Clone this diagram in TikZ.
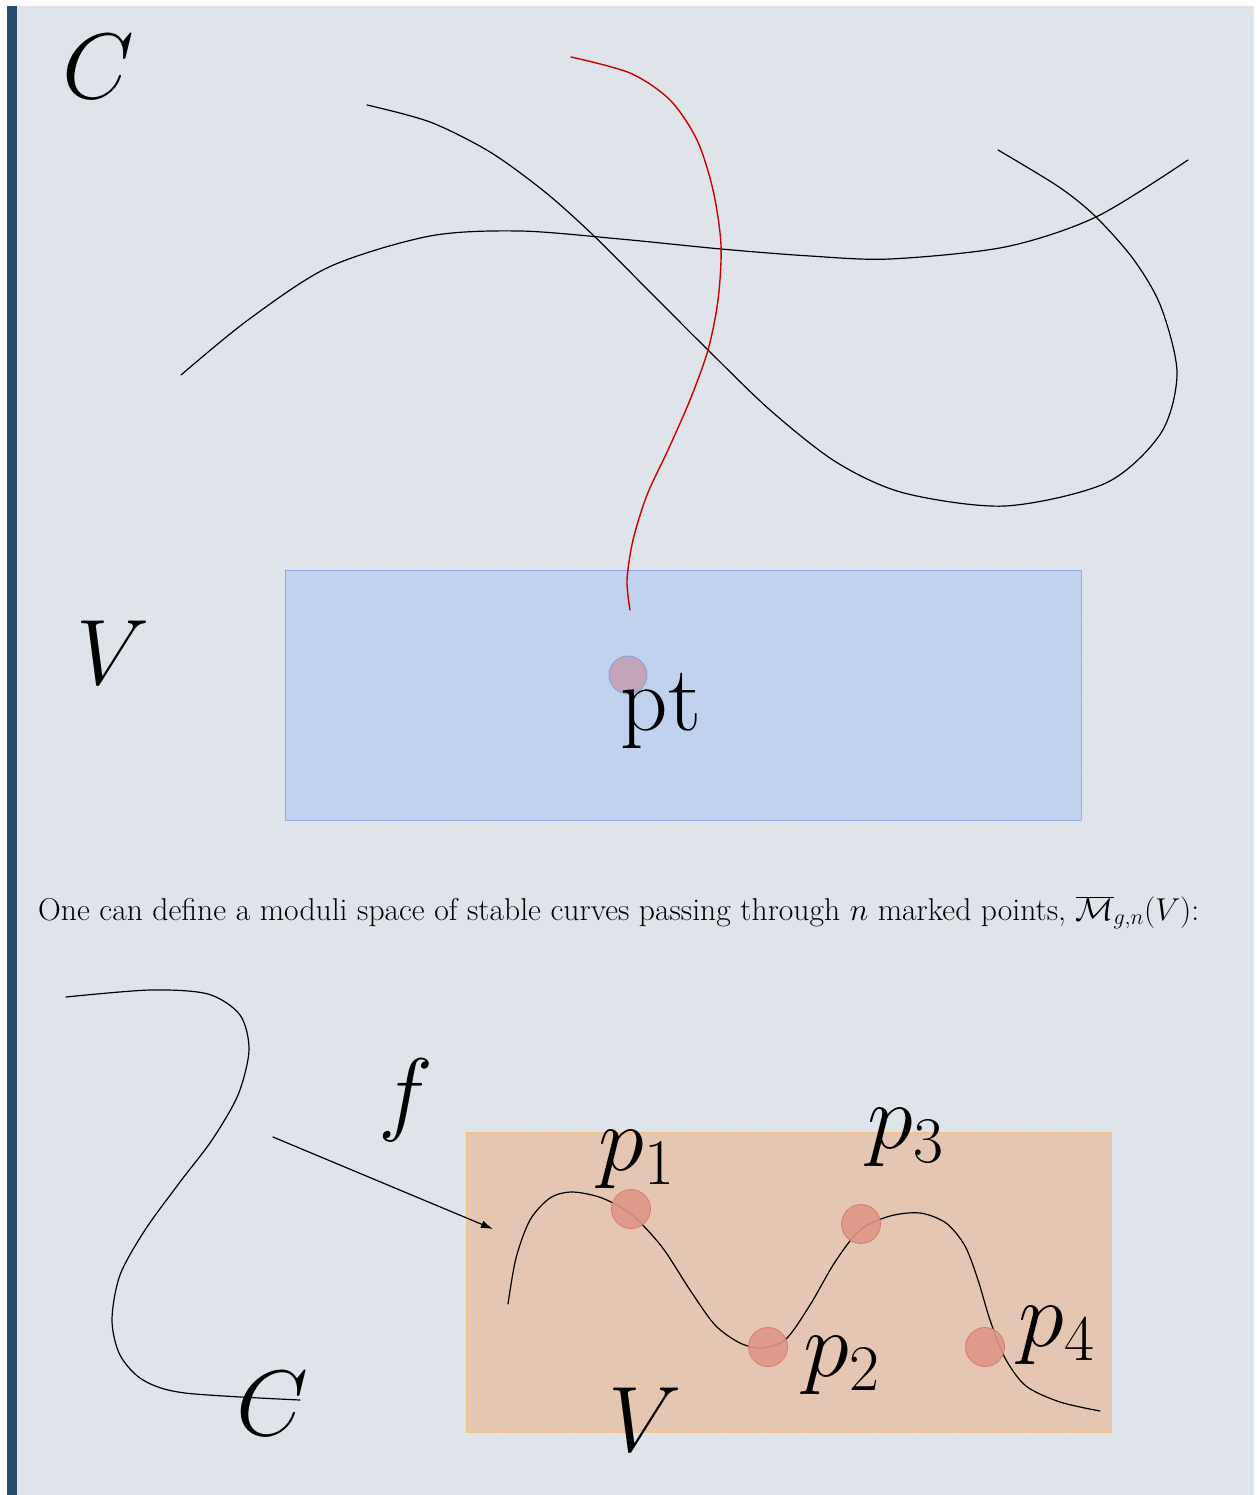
\documentclass[tikz,border=0pt]{standalone}
\usepackage{fix-cm}
\usetikzlibrary{arrows.meta}
\definecolor{moduliBg}{HTML}{DFE4EA}
\definecolor{moduliBar}{HTML}{264C6E}
\definecolor{targetBlue}{HTML}{C0D2ED}
\definecolor{targetBlueLine}{HTML}{8AA8DF}
\definecolor{targetOrange}{HTML}{E4C6B2}
\definecolor{targetOrangeLine}{HTML}{F2C27A}
\definecolor{ptDot}{HTML}{C4A4B8}
\definecolor{ptDotLine}{HTML}{7D9FE0}
\definecolor{markDot}{HTML}{DE9687}
\definecolor{markDotLine}{HTML}{E07070}
\definecolor{fiberRed}{HTML}{CC0000}

\begin{document}
\begin{tikzpicture}[x=1pt,y=-1pt,>=Latex,line cap=round,line join=round]
\path[fill=white] (0,0) rectangle (1257,1495);
\path[fill=moduliBg] (7,6) rectangle (1254,1495);
\path[fill=moduliBar] (7,6) rectangle (17,1495);
\tikzset{bigmath/.style={font=\fontsize{93}{100}\selectfont,inner sep=0pt},curve/.style={draw=black,line width=1.2pt},dotfill/.style={densely dotted,line width=0.9pt}}
% upper half: curves through a point of V
\node[bigmath] (labelCtop) at (98,67) {$C$};
\node[bigmath] (labelVtop) at (113,653) {$V$};
\path[fill=targetBlue,draw=targetBlueLine,dotfill] (285,570) rectangle (1081,820);
\draw[curve] plot[smooth] coordinates {(367,105) (430,122) (490,152) (545,192) (593,235) (650,292) (708,350) (770,410) (836,462) (904,493) (1005,506) (1106,483) (1161,433) (1177,373) (1161,307) (1134,260) (1096,217) (1059,187) (998,150)};
\draw[curve] plot[smooth] coordinates {(181,375) (248,320) (329,267) (430,236) (520,231) (620,239) (721,249) (810,256) (890,259) (1005,247) (1096,217) (1188,160)};
\draw[draw=fiberRed,line width=1.4pt] plot[smooth] coordinates {(571,57) (630,73) (670,100) (697,140) (713,190) (721,245) (718,300) (708,350) (690,400) (668,450) (647,495) (633,540) (627,580) (630,610)};
\node[circle,minimum size=38pt,inner sep=0pt,fill=ptDot,draw=ptDotLine,dotfill] (ptDot) at (628,675) {};
\node[bigmath] (labelPt) at (661,711) {pt};
% caption
\node[anchor=base west,inner sep=0pt,font=\fontsize{31.6}{36}\selectfont] (caption) at (38,920) {One can define a moduli space of stable curves passing through $n$ marked points, $\overline{\mathcal{M}}_{g,n}(V)$:};
% lower half: marked curve mapped into V
\path[fill=targetOrange,draw=targetOrangeLine,dotfill] (466,1132) rectangle (1111,1432);
\draw[curve] plot[smooth] coordinates {(66,997) (150,990) (208,994) (240,1015) (249,1050) (238,1095) (212,1140) (180,1182) (145,1230) (120,1275) (112,1320) (120,1355) (143,1380) (185,1393) (300,1400)};
\node[bigmath] (labelCbot) at (272,1404) {$C$};
\node[bigmath] (labelVbot) at (645,1420) {$V$};
\node[bigmath] (labelF) at (406,1100) {$f$};
\coordinate (fTail) at (273,1137);
\coordinate (fHead) at (493,1229);
\draw[curve,-{Latex[length=12pt,width=8pt]}] (fTail) -- (fHead);
\draw[curve] plot[smooth] coordinates {(508,1304) (516,1258) (530,1220) (550,1198) (572,1192) (602,1198) (632,1215) (662,1247) (690,1290) (715,1325) (740,1343) (762,1348) (786,1339) (810,1305) (835,1262) (860,1230) (890,1216) (920,1213) (946,1223) (965,1246) (978,1280) (990,1320) (1005,1358) (1026,1386) (1060,1402) (1100,1411)};
\foreach \name/\x/\y in {one/631/1209,two/768/1347,three/861/1224,four/985/1347}
  \node[circle,minimum size=39pt,inner sep=0pt,fill=markDot,fill opacity=0.9,draw=markDotLine,dotfill] (dot\name) at (\x,\y) {};
\node[bigmath] (labelPone) at (637,1160) {$p_1$};
\node[bigmath] (labelPtwo) at (842,1366) {$p_2$};
\node[bigmath] (labelPthree) at (906,1138) {$p_3$};
\node[bigmath] (labelPfour) at (1057,1336) {$p_4$};
\end{tikzpicture}
\end{document}
